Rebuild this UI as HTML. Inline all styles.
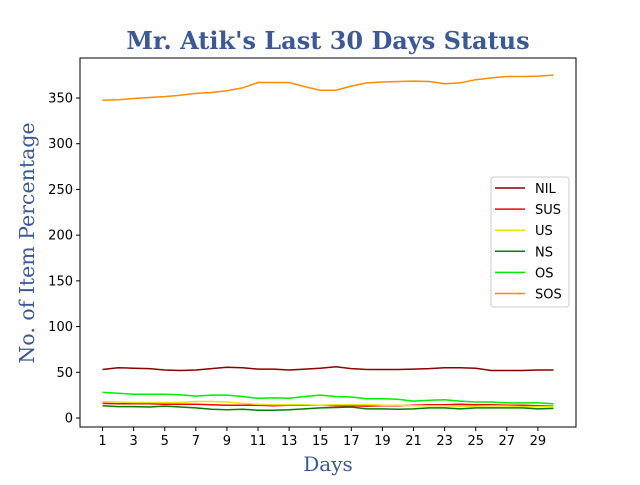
<!DOCTYPE html>
<html><head><meta charset="utf-8"><style>
body{margin:0;background:#fff;}
svg text{font-family:"DejaVu Sans","Liberation Sans",sans-serif;}
</style></head><body>
<svg id="chart" width="640" height="480" xmlns="http://www.w3.org/2000/svg">
<rect width="640" height="480" fill="#fff"/>
<text x="328" y="49" text-anchor="middle" font-weight="bold" font-size="24" fill="#3b5998" style="font-family:'DejaVu Serif','Liberation Serif',serif">Mr. Atik's Last 30 Days Status</text>
<g id="series"></g>
<rect x="80" y="58" width="496" height="369" fill="none" stroke="#000" stroke-width="1"/>
<g id="axes" font-size="13" fill="#000"></g>
<text x="328" y="471" text-anchor="middle" font-size="20" fill="#3b5998" style="font-family:'DejaVu Serif','Liberation Serif',serif">Days</text>
<text transform="translate(34,243) rotate(-90)" text-anchor="middle" font-size="20.5" fill="#3b5998" style="font-family:'DejaVu Serif','Liberation Serif',serif">No. of Item Percentage</text>
<g id="legend"></g>
</svg>
<script>
const days = Array.from({length:30},(_,i)=>i+1);
const seriesNames = ["NIL","SUS","US","NS","OS","SOS"];
const seriesColors = ["#8b0000","#ff0000","#e6e600","#008000","#00ee00","#ff8c00"];
const nil = [53,55,54.5,54,52.5,52,52.5,54,55.5,55,53.5,53.5,52.5,53.5,54.5,56,54,53,53,53,53.5,54,55,55,54.5,52,52,52,52.5,52.5];
const sus = [16,15.5,15.5,15.5,15,15,15,14.5,14,14,14,13.5,14,14,14,13.5,13.5,13,13.5,13.5,14,14.5,14.5,15,14.5,14.5,14,14,13.5,13];
const us = [18,17.5,17,17,17,17,18,18,17.5,16,15,14.5,14.5,14.5,14,14.5,14.5,14.5,14,14,13.5,13.5,13.5,13,13,13.5,13,12.5,12.5,12.5];
const ns = [13.5,12.5,12.5,12,13,12,11,9.5,9,9.5,8.5,8.5,9,10,11,11.5,12,10,10,9.5,10,11,11,10,11,11,11,11,10,10.5];
const os = [28,27,26,26,26,25.5,24,25,25,23.5,21.5,22,21.5,23.5,25,23.5,23,21,21,20.5,18.5,19.5,20,18.5,17.5,17.5,16.5,16.5,16.5,15.5];
const sos = [347.5,348,349.5,350.5,351.5,353,355,356,358,361,367,367,367,362.5,358.5,358.5,363,366.5,367.5,368,368.5,368,365.5,366.5,370,372,373.5,373.5,374,375];
const xTicks = [1,3,5,7,9,11,13,15,17,19,21,23,25,27,29];
const yTicks = [0,50,100,150,200,250,300,350];
const allSeries = [nil,sus,us,ns,os,sos];

const NS_="http://www.w3.org/2000/svg";
const X0=80,X1=576,Y0=58,Y1=427;
const xmin=-0.45,xmax=31.45;
const ymin=-9.84,ymax=393.75;
const sx=d=>X0+(d-xmin)/(xmax-xmin)*(X1-X0);
const sy=v=>Y1-(v-ymin)/(ymax-ymin)*(Y1-Y0);
function mk(t,a,p){const e=document.createElementNS(NS_,t);for(const k in a)e.setAttribute(k,a[k]);p.appendChild(e);return e;}

const sg=document.getElementById('series');
allSeries.forEach((vals,i)=>{
  const pts=vals.map((v,j)=>sx(days[j]).toFixed(1)+','+sy(v).toFixed(1)).join(' ');
  const pl=mk('polyline',{points:pts,fill:'none',stroke:seriesColors[i],'stroke-width':1.5},sg);
  
  
});

const ag=document.getElementById('axes');
xTicks.forEach(t=>{
  const x=sx(t);
  const l=mk('line',{x1:x,x2:x,y1:Y1,y2:Y1+4,stroke:'#000'},ag);
  
  
  const tx=mk('text',{x:x,y:Y1+18,'text-anchor':'middle'},ag);tx.textContent=t;
  
  
});
yTicks.forEach(t=>{
  const y=sy(t);
  const l=mk('line',{x1:X0-4,x2:X0,y1:y,y2:y,stroke:'#000'},ag);
  
  
  const tx=mk('text',{x:X0-7,y:y+4.5,'text-anchor':'end'},ag);tx.textContent=t;
  
  
});

const lg=document.getElementById('legend');
const box=mk('rect',{x:491,y:177,width:78,height:130,rx:3,fill:'#fff','fill-opacity':0.8,stroke:'#ccc'},lg);


seriesNames.forEach((n,i)=>{
  const y=188+i*21.1;
  const l=mk('line',{x1:495,x2:525,y1:y,y2:y,stroke:seriesColors[i],'stroke-width':1.5},lg);
  
  
  const t=mk('text',{x:535,y:y+5,'font-size':13},lg);t.textContent=n;
  
  
});
</script>
</body></html>
